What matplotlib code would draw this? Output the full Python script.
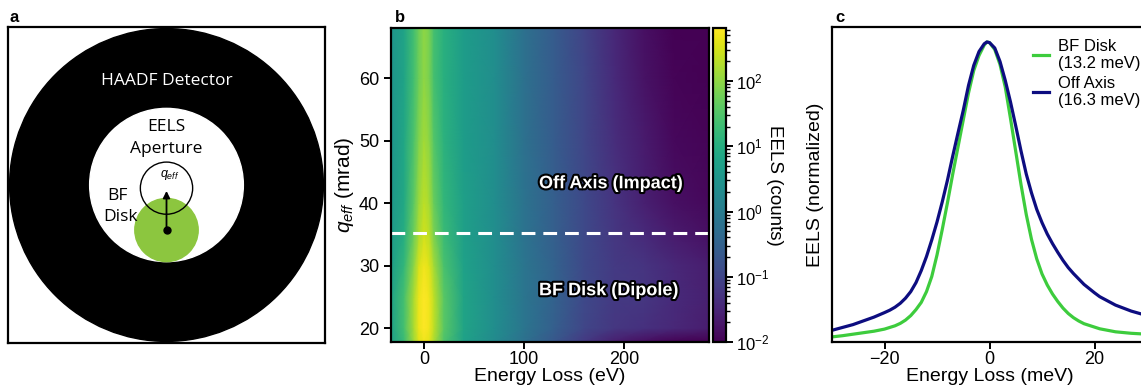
import numpy as np
import matplotlib
matplotlib.use("Agg")
import matplotlib.pyplot as plt
from matplotlib.patches import Circle
from matplotlib.colors import Normalize, LogNorm
from matplotlib.cm import ScalarMappable
import matplotlib.patheffects as pe

plt.rcParams['font.family'] = ['Liberation Sans', 'DejaVu Sans']
plt.rcParams['mathtext.fontset'] = 'custom'
plt.rcParams['mathtext.rm'] = 'Liberation Sans'
plt.rcParams['mathtext.it'] = 'Liberation Sans:italic'

# ---- panel b data: EELS map, log10(counts) on a coarse (q, E) grid
energy_ev = [-33, -20, -10, -5, 0, 5, 10, 20, 40, 70, 100, 130, 160, 190, 220, 250, 285]
q_mrad = [18, 20, 25, 30, 35, 40, 50, 60, 68]
log_counts = [
    [0.69, 1.27, 2.14, 2.57, 2.71, 2.62, 2.23, 1.46, 0.74, 0.31, -0.22, -0.70, -1.18, -1.57, -1.81, -1.95, -2.00],
    [0.74, 1.37, 2.23, 2.67, 2.81, 2.71, 2.33, 1.56, 0.79, 0.36, -0.12, -0.56, -0.99, -1.23, -1.33, -1.47, -1.62],
    [0.74, 1.37, 2.23, 2.67, 2.81, 2.71, 2.33, 1.56, 0.79, 0.36, -0.12, -0.51, -0.94, -1.18, -1.23, -1.42, -1.57],
    [0.65, 1.17, 1.99, 2.52, 2.71, 2.57, 2.14, 1.42, 0.74, 0.36, -0.12, -0.51, -0.94, -1.18, -1.28, -1.47, -1.62],
    [0.60, 0.98, 1.75, 2.23, 2.47, 2.33, 1.85, 1.27, 0.69, 0.36, -0.17, -0.56, -0.94, -1.23, -1.42, -1.66, -1.81],
    [0.55, 0.89, 1.61, 2.09, 2.33, 2.18, 1.70, 1.17, 0.69, 0.36, -0.17, -0.56, -0.94, -1.28, -1.57, -1.81, -1.90],
    [0.50, 0.84, 1.46, 1.90, 2.14, 1.99, 1.51, 1.08, 0.65, 0.36, -0.22, -0.61, -0.99, -1.37, -1.66, -1.90, -1.95],
    [0.50, 0.79, 1.37, 1.75, 1.99, 1.85, 1.37, 1.03, 0.65, 0.36, -0.22, -0.61, -0.99, -1.42, -1.76, -1.95, -2.00],
    [0.50, 0.79, 1.37, 1.75, 1.99, 1.85, 1.37, 1.03, 0.65, 0.36, -0.22, -0.61, -1.04, -1.47, -1.81, -2.00, -2.00],
]
q_split = 35.3
count_min, count_max = 1e-2, 650

# ---- panel c data: normalized spectra
bf_e = [-30, -28, -26, -24, -22, -20, -18, -17, -16, -15, -14, -13, -12, -11, -10, -9, -8, -7, -6,
        -5, -4, -3, -2, -1, -0.5, 0, 1, 2, 3, 4, 5, 6, 7, 8, 9, 10, 11, 12, 13, 14, 15, 16, 17,
        18, 21, 24, 27, 30]
bf_val = [0.017, 0.021, 0.026, 0.031, 0.036, 0.043, 0.054, 0.062, 0.073, 0.088, 0.108, 0.132,
          0.168, 0.218, 0.29, 0.375, 0.465, 0.56, 0.65, 0.74, 0.83, 0.905, 0.955, 0.99, 1.0, 0.998,
          0.975, 0.925, 0.85, 0.745, 0.635, 0.525, 0.425, 0.342, 0.277, 0.227, 0.19, 0.16, 0.135,
          0.113, 0.095, 0.081, 0.07, 0.061, 0.044, 0.034, 0.029, 0.026]
off_e = [-30, -26, -22, -20, -19, -18, -17, -16, -15, -14, -13, -12, -11, -10, -9, -8, -7, -6,
         -5, -4, -3, -2, -1, -0.5, 0, 1, 2, 3, 4, 5, 6, 7, 8, 9, 10, 11, 12, 13, 14, 15, 16, 18,
         20, 21, 24, 27, 30]
off_val = [0.039, 0.058, 0.083, 0.098, 0.106, 0.116, 0.129, 0.146, 0.168, 0.198, 0.238, 0.285,
           0.34, 0.40, 0.467, 0.54, 0.62, 0.697, 0.772, 0.855, 0.922, 0.968, 0.994, 1.0, 0.998,
           0.98, 0.935, 0.872, 0.80, 0.72, 0.637, 0.56, 0.497, 0.442, 0.398, 0.36, 0.328, 0.299,
           0.272, 0.248, 0.228, 0.192, 0.164, 0.151, 0.123, 0.103, 0.088]
legend_labels = ["BF Disk\n(13.2 meV)", "Off Axis\n(16.3 meV)"]

W, H = 1141, 385
fig = plt.figure(figsize=(W / 100, H / 100), dpi=100)


def px_axes(x0, y0, x1, y1):
    # pixel box (top-left origin) -> figure axes
    return fig.add_axes([x0 / W, (H - y1) / H, (x1 - x0) / W, (y1 - y0) / H])


# ---------------- panel a: schematic
axa = px_axes(8, 27, 325, 343)
axa.set_xlim(-1, 1)
axa.set_ylim(-1, 1)
axa.set_xticks([])
axa.set_yticks([])
for s in axa.spines.values():
    s.set_linewidth(1.6)
axa.add_patch(Circle((0, 0), 0.99, color='black'))
axa.add_patch(Circle((0, 0), 0.485, color='white'))
axa.add_patch(Circle((0, -0.285), 0.2, color='#8cc63f'))
axa.add_patch(Circle((0, -0.02), 0.165, fill=False, ec='black', lw=1.0))
axa.annotate('', xy=(0, -0.02), xytext=(0, -0.285),
             arrowprops=dict(arrowstyle='-|>', color='black', lw=1.3, mutation_scale=10))
axa.plot([0], [-0.285], 'o', color='black', ms=5)
axa.text(0.02, 0.065, r'$q_{eff}$', ha='center', va='center', fontsize=9)
sfont = ['Open Sans', 'DejaVu Sans']
axa.text(0, 0.66, 'HAADF Detector', color='white', ha='center', va='center', fontsize=12.5, family=sfont)
axa.text(0, 0.365, 'EELS', ha='center', va='center', fontsize=12.5, family=sfont)
axa.text(0, 0.23, 'Aperture', ha='center', va='center', fontsize=12.5, family=sfont)
axa.text(-0.31, -0.07, 'BF', ha='center', va='center', fontsize=12.5, family=sfont)
axa.text(-0.29, -0.205, 'Disk', ha='center', va='center', fontsize=12.5, family=sfont)
fig.text(9 / W, 1 - 17 / H, 'a', fontsize=12, fontweight='bold', va='center')

# ---------------- panel b: EELS map
axb = px_axes(391, 28, 709, 342)
vals = np.array(log_counts)
axb.pcolormesh(energy_ev, q_mrad, vals, shading='gouraud', cmap='viridis',
               norm=Normalize(np.log10(count_min), np.log10(count_max)), rasterized=True)
axb.axhline(q_split, color='white', lw=2.2, dashes=(4.5, 2.6))
axb.set_xlim(-33, 285)
axb.set_ylim(17.8, 68)
axb.set_xticks([0, 100, 200])
axb.set_yticks([20, 30, 40, 50, 60])
axb.tick_params(labelsize=13, width=1.4, length=5)
axb.tick_params(axis='x', pad=1.5)
axb.set_xlabel('Energy Loss (eV)', fontsize=14, labelpad=0)
axb.set_ylabel(r'$q_{eff}$ (mrad)', fontsize=15, labelpad=2)
for s in axb.spines.values():
    s.set_linewidth(1.6)
stroke = [pe.withStroke(linewidth=3, foreground='black')]
axb.text(115, 43.1, 'Off Axis (Impact)', color='white', fontsize=13, fontweight='bold',
         va='center', ha='left', path_effects=stroke)
axb.text(115, 26.0, 'BF Disk (Dipole)', color='white', fontsize=13, fontweight='bold',
         va='center', ha='left', path_effects=stroke)
fig.text(395 / W, 1 - 17 / H, 'b', fontsize=12, fontweight='bold', va='center')

cax = px_axes(713, 28, 726, 342)
sm = ScalarMappable(norm=LogNorm(count_min, count_max), cmap='viridis')
cb = fig.colorbar(sm, cax=cax)
cb.outline.set_linewidth(1.6)
cax.tick_params(which='major', labelsize=12, width=1.4, length=5, pad=2)
cax.tick_params(which='minor', width=1.0, length=3)
cb.set_label('EELS (counts)', rotation=270, fontsize=13.5, labelpad=10)

# ---------------- panel c: spectra
axc = px_axes(832, 27, 1147, 342)
axc.plot(bf_e, bf_val, color='#3dcc3d', lw=2.3, label=legend_labels[0])
axc.plot(off_e, off_val, color='#0d0d80', lw=2.3, label=legend_labels[1])
axc.set_xlim(-30, 30)
axc.set_ylim(0, 1.05)
axc.set_yticks([])
axc.set_xticks([-20, 0, 20])
axc.tick_params(labelsize=13, width=1.4, length=5)
axc.tick_params(axis='x', pad=1.5)
axc.set_xlabel('Energy Loss (meV)', fontsize=14, labelpad=0)
axc.set_ylabel('EELS (normalized)', fontsize=14, labelpad=6)
for s in axc.spines.values():
    s.set_linewidth(1.6)
axc.legend(loc='upper left', bbox_to_anchor=(0.6, 1.0), frameon=False, fontsize=12,
           handlelength=1.0, handletextpad=0.5, labelspacing=0.3, borderaxespad=0.3)
fig.text(835 / W, 1 - 17 / H, 'c', fontsize=12, fontweight='bold', va='center')

fig.savefig('out.png', dpi=100)
